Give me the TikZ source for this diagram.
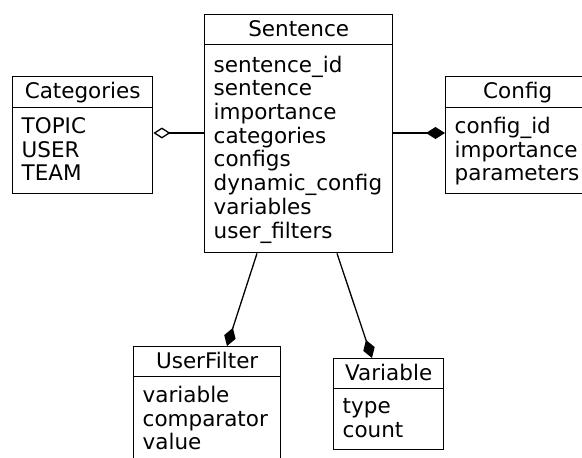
\documentclass[tikz,border=0pt]{standalone}
\usepackage{fontspec}
\setmainfont{DejaVu Sans}
\usetikzlibrary{arrows.meta}
% strut that centres the text optically in each row
\newcommand\cstrut{\rule[-5.5pt]{0pt}{23.7pt}}
\tikzset{
  cls/.style={draw, line width=1.4pt, rectangle, inner sep=0pt, anchor=north west,
    font=\fontsize{21.5}{23.7}\selectfont},
  hdr/.style={cls, align=center},
  bdy/.style={cls, align=left, inner xsep=9pt},
  link/.style={line width=1.3pt},
  comp/.style={link, -{Diamond[length=19pt,width=12pt]}},
  aggr/.style={link, -{Diamond[open,length=17pt,width=11pt]}}
}
\begin{document}
\begin{tikzpicture}[x=1pt,y=1pt]
  \clip (0,0) rectangle (582,-458);
  \fill[white] (0,0) rectangle (582,-458);

  % Sentence
  \node[hdr, minimum width=188pt, minimum height=30pt] (sh) at (204,-14) {\cstrut Sentence};
  \node[bdy, text width=170pt, minimum height=208pt] (sb) at (204,-44)
    {\cstrut sentence\_id\\\cstrut sentence\\\cstrut importance\\\cstrut categories\\\cstrut configs\\\cstrut dynamic\_config\\\cstrut variables\\\cstrut user\_filters};

  % Categories
  \node[hdr, minimum width=140pt, minimum height=31pt] (ch) at (12,-76) {\cstrut Categories};
  \node[bdy, text width=122pt, minimum height=86pt] (cb) at (12,-107)
    {\cstrut TOPIC\\\cstrut USER\\\cstrut TEAM};

  % Config
  \node[hdr, minimum width=144pt, minimum height=31pt] (gh) at (445,-76) {\cstrut Config};
  \node[bdy, text width=126pt, minimum height=86pt] (gb) at (445,-107)
    {\cstrut config\_id\\\cstrut importance\\\cstrut parameters};

  % UserFilter
  \node[hdr, minimum width=147pt, minimum height=30pt] (uh) at (133,-346) {\cstrut UserFilter};
  \node[bdy, text width=129pt, minimum height=86pt] (ub) at (133,-376)
    {\cstrut variable\\\cstrut comparator\\\cstrut value};

  % Variable
  \node[hdr, minimum width=110pt, minimum height=30pt] (vh) at (333,-358) {\cstrut Variable};
  \node[bdy, text width=92pt, minimum height=61pt] (vb) at (333,-388)
    {\cstrut type\\\cstrut count};

  % Associations
  \coordinate (side) at (0,-133);
  \draw[aggr] (sb.west |- side) -- (cb.east |- side);
  \draw[comp] (sb.east |- side) -- (gb.west |- side);
  \draw[comp] ([xshift=53pt]sb.south west) -- ([xshift=94pt]uh.north west);
  \draw[comp] ([xshift=133pt]sb.south west) -- ([xshift=39pt]vh.north west);
\end{tikzpicture}
\end{document}
